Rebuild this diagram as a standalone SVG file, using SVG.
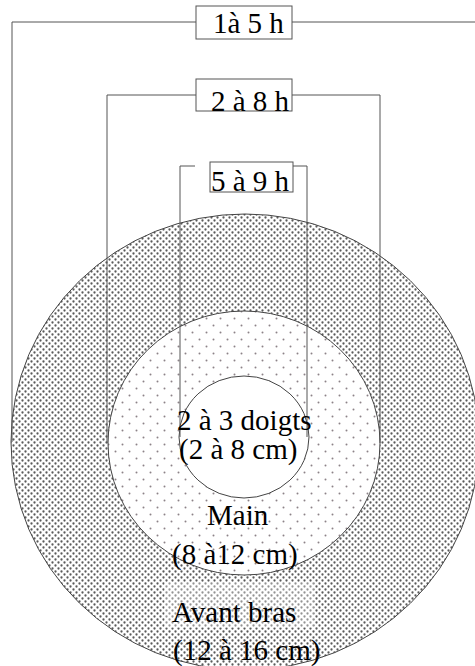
<svg xmlns="http://www.w3.org/2000/svg" width="475" height="666" viewBox="0 0 475 666">
<defs>
<pattern id="dense" width="6" height="6" patternUnits="userSpaceOnUse">
<rect width="6" height="6" fill="#ffffff"/>
<circle cx="1.5" cy="1.5" r="1.15" fill="#5a5a5a"/>
<circle cx="4.5" cy="4.5" r="1.15" fill="#5a5a5a"/>
</pattern>
<pattern id="sparse" width="14" height="14" patternUnits="userSpaceOnUse">
<rect width="14" height="14" fill="#ffffff"/>
<circle cx="3.5" cy="3.5" r="1" fill="#8c8288"/>
<circle cx="10.5" cy="10.5" r="1" fill="#8c8288"/>
</pattern>
</defs>
<style>
.ring{stroke:#444;stroke-width:1}
.conn{fill:none;stroke:#555;stroke-width:1}
.box{fill:#fff;stroke:#555;stroke-width:1}
.t{font-family:"Liberation Serif","Times New Roman",serif;font-size:29px;fill:#000}
</style>
<rect width="475" height="666" fill="#fff"/>
<g id="avant-bras">
<ellipse class="ring" cx="245" cy="442" rx="234" ry="228" fill="url(#dense)"/>
</g>
<g id="main">
<ellipse class="ring" cx="244" cy="443" rx="136" ry="132" fill="url(#sparse)"/>
</g>
<g id="doigts">
<ellipse class="ring" cx="244" cy="437" rx="65" ry="61" fill="#fff"/>
</g>
<g id="connectors">
<polyline class="conn" points="12,442 12,22 196,22"/>
<polyline class="conn" points="292,22 479,22 479,442"/>
<polyline class="conn" points="107,443 107,95 196,95"/>
<polyline class="conn" points="292,95 380,95 380,443"/>
<polyline class="conn" points="180,437 180,166 195,166"/>
<polyline class="conn" points="293,166 307,166 307,437"/>
</g>
<g id="label-1a5h">
<rect class="box" x="196" y="6" width="96" height="33"/>
<text class="t" x="213" y="33">1à 5 h</text>
</g>
<g id="label-2a8h">
<rect class="box" x="196" y="79" width="96" height="32"/>
<text class="t" x="211" y="111">2 à 8 h</text>
</g>
<g id="label-5a9h">
<rect class="box" x="210" y="162" width="83" height="30"/>
<text class="t" x="211" y="191">5 à 9 h</text>
</g>
<g id="text-doigts">
<text class="t" x="177" y="430">2 à 3 doigts</text>
<text class="t" x="179" y="459">(2 à 8 cm)</text>
</g>
<g id="text-main">
<text class="t" x="207" y="525">Main</text>
<text class="t" x="172" y="564">(8 à12 cm)</text>
</g>
<g id="text-avant-bras">
<rect x="164" y="582" width="150" height="46" fill="#fff" fill-opacity="0.35"/>
<text class="t" x="172" y="622">Avant bras</text>
<text class="t" x="173" y="660">(12 à 16 cm)</text>
</g>
</svg>
